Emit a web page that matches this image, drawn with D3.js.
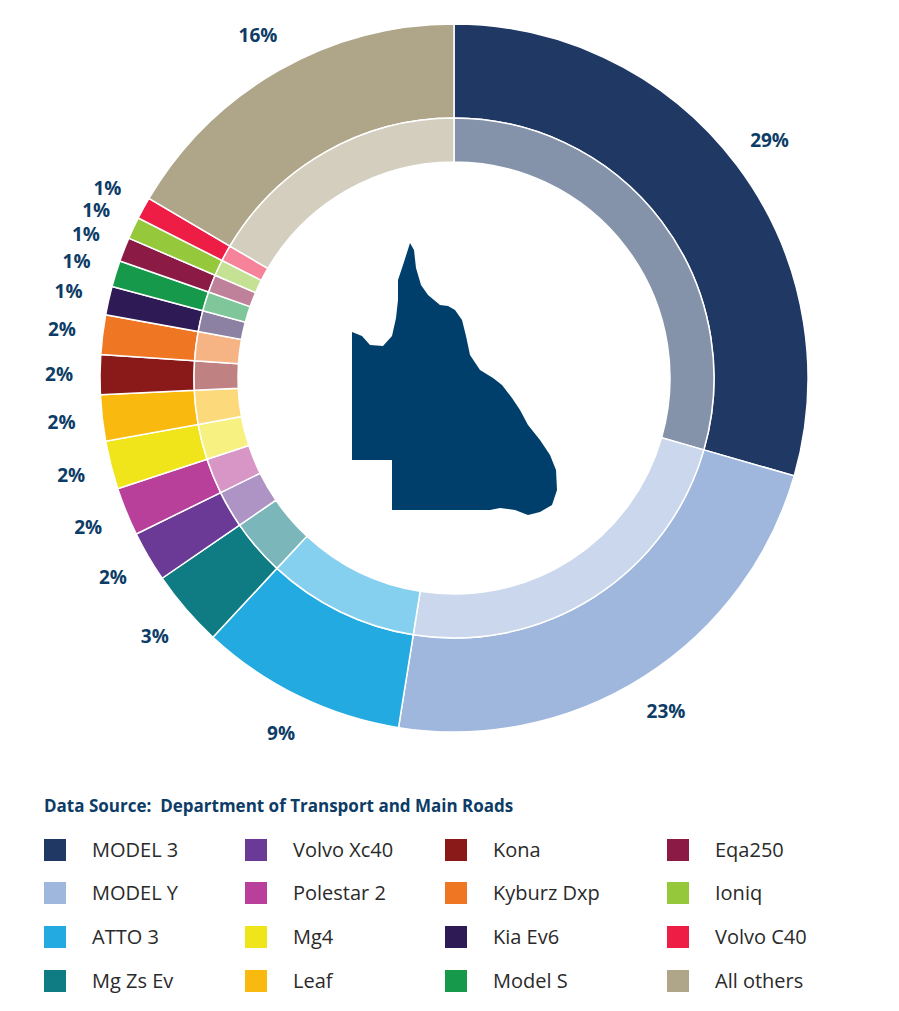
<!DOCTYPE html>
<html><head><meta charset="utf-8">
<script src="https://cdn.jsdelivr.net/npm/d3@7"></script>
<style>body{margin:0;background:#fff}text{font-family:"Open Sans",Lato,sans-serif}</style>
</head><body><svg id="c" width="899" height="1011"></svg>
<script>
const categories=["MODEL 3","MODEL Y","ATTO 3","Mg Zs Ev","Volvo Xc40","Polestar 2","Mg4","Leaf","Kona","Kyburz Dxp","Kia Ev6","Model S","Eqa250","Ioniq","Volvo C40","All others"];
const values=[29.4,23.0,9.4,3.5,2.3,2.2,2.2,2.1,1.8,1.8,1.3,1.2,1.1,1.0,1.0,16.5];
const labels=["29%","23%","9%","3%","2%","2%","2%","2%","2%","2%","1%","1%","1%","1%","1%","16%"];
const colors=["#1f3864","#9fb6dd","#23aae1","#0f7b83","#6b3a96","#b8409a","#f0e51a","#f9b90f","#8a1a1a","#ef7622","#2e1a55","#16994a","#8b1a45","#96c83c","#ee1d45","#afa588"];

const svg=d3.select("#c");
const cx=454,cy=378;
const pie=d3.pie().sort(null).value(d=>d)(values);
const g=svg.append("g").attr("transform",`translate(${cx},${cy})`);
const outer=d3.arc().innerRadius(260).outerRadius(354);
const inner=d3.arc().innerRadius(216).outerRadius(260);
g.selectAll("path.o").data(pie).join("path").attr("d",outer).attr("fill",(d,i)=>colors[i]).attr("stroke","#fff").attr("stroke-width",1.5);
g.selectAll("path.i").data(pie).join("path").attr("d",inner).attr("fill",(d,i)=>d3.interpolateRgb(colors[i],"#fff")(0.45)).attr("stroke","#fff").attr("stroke-width",1.5);
const lab=d3.arc().innerRadius(395).outerRadius(395);
g.selectAll("text.l").data(pie).join("text").attr("transform",d=>{const c=lab.centroid(d);return `translate(${c[0]},${c[1]})`;})
 .attr("text-anchor","middle").attr("dy","0.35em").attr("font-size",19).attr("font-weight","bold").attr("fill","#0d3c66").text((d,i)=>labels[i]);
svg.append("path").attr("fill","#003f6b").attr("d","M410,243 L414,250 L416,268 L421,285 L428,295 L434,300 L440,305 L448,306 L455,310 L462,320 L466,336 L470,355 L480,370 L493,378 L502,385 L512,398 L520,410 L528,425 L540,440 L550,455 L556,470 L557,490 L552,505 L540,512 L528,515 L515,510 L500,508 L490,510 L392,510 L392,460 L352,460 L352,332 L362,336 L370,345 L383,346 L392,336 L396,318 L398,300 L398,280 L404,262 Z");
svg.append("text").attr("x",44).attr("y",812).attr("font-size",17).attr("font-weight","bold").attr("fill","#0d3c66").attr("xml:space","preserve").text("Data Source:  Department of Transport and Main Roads");
const colX=[44,245,445,667],rowY=[850,893,937,981];
categories.forEach((name,k)=>{const col=Math.floor(k/4),row=k%4;
 svg.append("rect").attr("x",colX[col]).attr("y",rowY[row]-11).attr("width",22).attr("height",22).attr("fill",colors[k]);
 svg.append("text").attr("x",colX[col]+48).attr("y",rowY[row]).attr("dy","0.35em").attr("font-size",20).attr("fill","#2a2a2a").text(name);});
</script></body></html>
